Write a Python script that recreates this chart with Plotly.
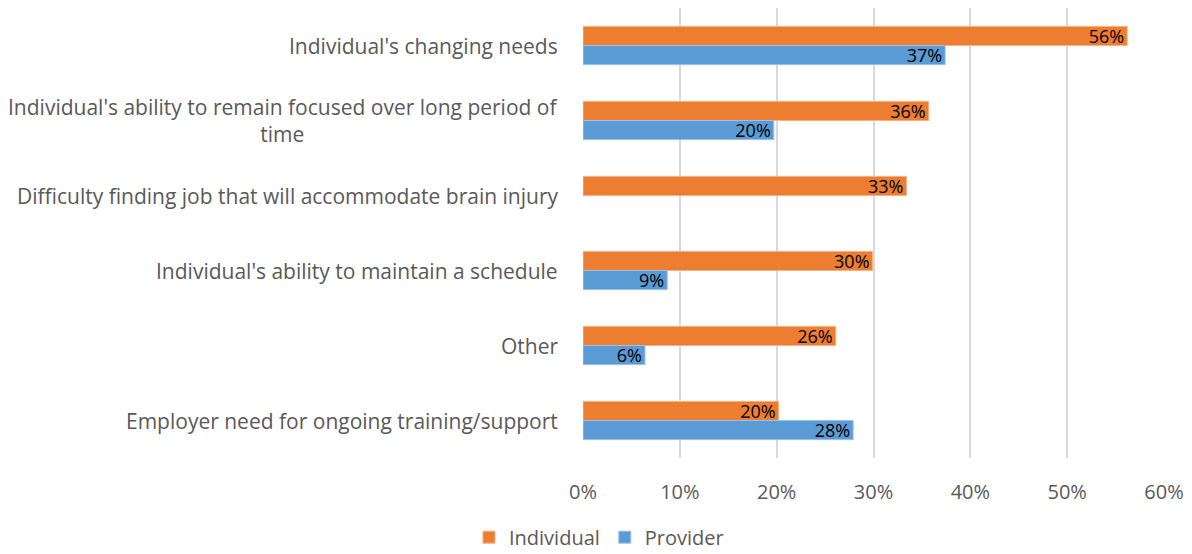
import plotly.graph_objects as go

categories = [
    "Individual's changing needs",
    "Individual's ability to remain focused over long period of<br>time",
    "Difficulty finding job that will accommodate brain injury",
    "Individual's ability to maintain a schedule",
    "Other",
    "Employer need for ongoing training/support",
]
individual = [56.2, 35.7, 33.4, 29.9, 26.1, 20.2]
provider = [37.4, 19.7, None, 8.7, 6.4, 27.9]
ind_labels = ["56%", "36%", "33%", "30%", "26%", "20%"]
prov_labels = ["37%", "20%", "", "9%", "6%", "28%"]
x_ticks = [0, 10, 20, 30, 40, 50, 60]

FONT = "Open Sans"
GRAY = "#595959"

fig = go.Figure()
fig.add_trace(go.Bar(
    y=categories, x=individual, orientation="h", name="Individual",
    marker=dict(color="#ED7D31", line=dict(color="#F4B183", width=1)),
    text=ind_labels, textposition="inside", insidetextanchor="end",
    textfont=dict(color="black", size=18, family=FONT),
    constraintext="none",
))
fig.add_trace(go.Bar(
    y=categories, x=provider, orientation="h", name="Provider",
    marker=dict(color="#5B9BD5", line=dict(color="#9DC3E6", width=1)),
    text=prov_labels, textposition="inside", insidetextanchor="end",
    textfont=dict(color="black", size=18, family=FONT),
    constraintext="none",
))

for c in categories:
    fig.add_annotation(
        x=0, xref="paper", xanchor="right", xshift=-23,
        y=c, yref="y", yanchor="middle",
        text=c, showarrow=False, align="center",
        font=dict(family=FONT, size=21, color=GRAY),
    )

fig.update_layout(
    width=1184, height=546,
    margin=dict(l=575, r=28, t=0, b=96, autoexpand=False),
    paper_bgcolor="white", plot_bgcolor="white",
    barmode="group", bargap=0.49, bargroupgap=0,
    font=dict(family=FONT, color=GRAY, size=20),
    showlegend=True,
    legend=dict(orientation="h", x=0.0275, xref="paper", xanchor="center",
                y=-0.176, yref="paper", yanchor="middle",
                font=dict(size=20, color=GRAY), traceorder="normal",
                itemwidth=30),
    xaxis=dict(range=[0, 60], tickvals=x_ticks,
               ticktext=[f"{v}%" for v in x_ticks],
               showgrid=True, gridcolor="#D9D9D9", gridwidth=1.5,
               zeroline=False, showline=False, ticks="", automargin=False,
               tickfont=dict(size=20, color=GRAY), ticklabelstandoff=20),
    yaxis=dict(autorange="reversed", showticklabels=False, ticks="",
               showgrid=False, zeroline=False, showline=False, automargin=False),
)

fig.write_html("out.html")
